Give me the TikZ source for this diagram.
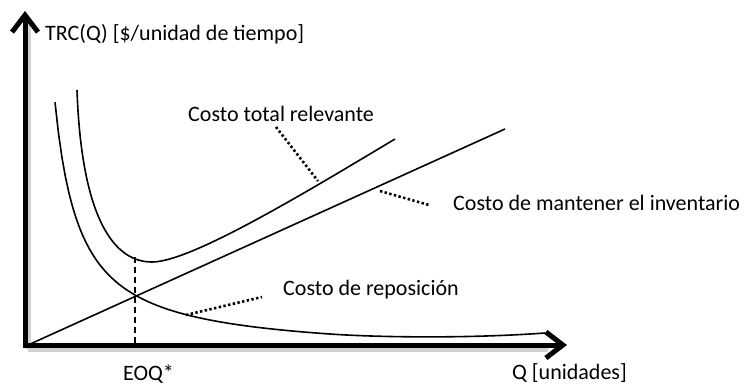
\documentclass[tikz,border=0pt]{standalone}
\usepackage{fontspec}
\setmainfont{Carlito}
\usetikzlibrary{arrows.meta}
\begin{document}
\begin{tikzpicture}[x=1pt,y=-1pt,
  axis/.style={line width=5pt, -{Straight Barb[length=17pt,width=26pt]}},
  shadowax/.style={line width=6pt, draw=black!18},
  curve/.style={line width=1.6pt},
  leader/.style={line width=2.6pt, dash pattern=on 2.4pt off 2.4pt},
  eoq/.style={line width=1.6pt, dash pattern=on 6pt off 4pt},
  lbl/.style={anchor=base west, inner sep=0pt, font=\fontsize{22}{24}\selectfont}]
\useasboundingbox (0,0) rectangle (744,385);
% coordinates
\coordinate (Ytip) at (25,11);
\coordinate (Xtip) at (567,345);
\coordinate (Hstart) at (28,345);
\coordinate (Hend) at (505,129);
\coordinate (Etop) at (135,257);
\coordinate (Ebot) at (135,345);
% shadow
\draw[shadowax] (28,349) -- (548,349);
\draw[shadowax] (28,22) -- (28,349);
% axes
\draw[axis] (25,347.5) -- (Ytip);
\draw[axis] (22.5,345) -- (Xtip);
% holding cost line
\draw[curve] (Hstart) -- (Hend);
% reposition cost curve
\draw[curve] plot[domain=55:330, samples=80] (\x, {345 - 6293/(\x-30.1) + 10})
  .. controls (380,337.5) and (470,338.5) .. (545,333);
% total relevant cost curve
\draw[curve] (77,90) .. controls (81,205) and (108,262) .. (152,262)
  .. controls (190,262) and (300,196) .. (395,139);
% EOQ dashed
\draw[eoq] (Etop) -- (Ebot);
% labels
\node[lbl] (ylab) at (45,41) {TRC(Q) [\$/unidad de tiempo]};
\node[lbl] (ltot) at (188,122) {Costo total relevante};
\node[lbl] (lman) at (453,210) {Costo de mantener el inventario};
\node[lbl] (lrep) at (283,295) {Costo de reposición};
\node[lbl] (leoq) at (123,380) {EOQ*};
\node[lbl] (xlab) at (512,379) {Q [unidades]};
% leaders
\coordinate (t1) at (276,127);
\coordinate (t2) at (318,181);
\coordinate (m1) at (380,191);
\coordinate (m2) at (429,205);
\coordinate (r1) at (186,315);
\coordinate (r2) at (262,297);
\draw[leader] (t1) -- (t2);
\draw[leader] (m1) -- (m2);
\draw[leader] (r1) -- (r2);
\end{tikzpicture}
\end{document}
